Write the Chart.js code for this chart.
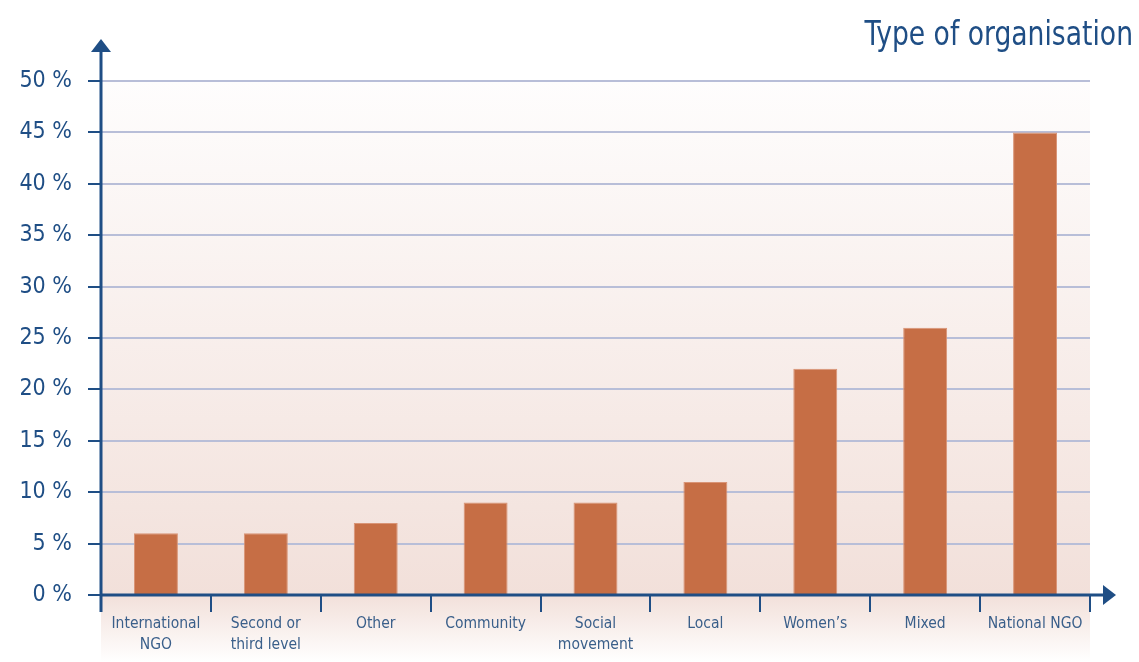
<!DOCTYPE html>
<html lang="en">
<head>
  <meta charset="UTF-8">
  <title>Type of organisation</title>
  <style>
    html, body { margin: 0; padding: 0; background: #fff; }
    .chart-wrapper { position: relative; width: 1139px; height: 662px; }
  </style>
</head>
<body>
  <div class="chart-wrapper">
    <canvas id="orgChart" width="1139" height="662"></canvas>
  </div>

  <script src="https://cdn.jsdelivr.net/npm/chart.js"></script>
  <script>
    // data
    const categories = [
      ['International', 'NGO'], ['Second or', 'third level'], 'Other', 'Community',
      ['Social', 'movement'], 'Local', 'Women\u2019s', 'Mixed', 'National NGO'
    ];
    const shares = [6, 6, 7, 9, 9, 11, 22, 26, 45];
    const yTicks = [0, 5, 10, 15, 20, 25, 30, 35, 40, 45, 50];

    const navy = '#1f4e85';
    const font = '"DejaVu Sans Condensed", "Liberation Sans Narrow", sans-serif';

    // background, axes with arrows and the title
    const decor = {
      id: 'decor',
      beforeDraw(chart) {
        const { ctx, chartArea: a } = chart;
        ctx.save();
        let g = ctx.createLinearGradient(0, a.top, 0, a.bottom);
        g.addColorStop(0, '#fefdfd');
        g.addColorStop(1, '#f2e0da');
        ctx.fillStyle = g;
        ctx.fillRect(a.left, a.top, a.right - a.left, a.bottom - a.top);
        g = ctx.createLinearGradient(0, a.bottom, 0, chart.height);
        g.addColorStop(0, '#f2e0da');
        g.addColorStop(1, '#ffffff');
        ctx.fillStyle = g;
        ctx.fillRect(a.left, a.bottom, a.right - a.left, chart.height - a.bottom);
        ctx.restore();
      },
      afterDraw(chart) {
        const { ctx, chartArea: a } = chart;
        ctx.save();
        ctx.strokeStyle = navy;
        ctx.fillStyle = navy;
        ctx.lineWidth = 3;
        // y axis
        ctx.beginPath();
        ctx.moveTo(a.left, a.bottom + 17);
        ctx.lineTo(a.left, a.top - 30);
        ctx.stroke();
        ctx.beginPath();
        ctx.moveTo(a.left - 10, a.top - 29);
        ctx.lineTo(a.left, a.top - 42);
        ctx.lineTo(a.left + 10, a.top - 29);
        ctx.closePath();
        ctx.fill();
        // x axis
        ctx.beginPath();
        ctx.moveTo(a.left, a.bottom);
        ctx.lineTo(a.right + 15, a.bottom);
        ctx.stroke();
        ctx.beginPath();
        ctx.moveTo(a.right + 13, a.bottom - 10);
        ctx.lineTo(a.right + 26, a.bottom);
        ctx.lineTo(a.right + 13, a.bottom + 10);
        ctx.closePath();
        ctx.fill();
        // title, squeezed a little to look like the condensed original
        ctx.translate(1133, 45);
        ctx.scale(0.87, 1);
        ctx.font = '34px ' + font;
        ctx.textAlign = 'right';
        ctx.textBaseline = 'alphabetic';
        ctx.fillText('Type of organisation', 0, 0);
        ctx.restore();
      }
    };

    const config = {
      type: 'bar',
      data: {
        labels: categories,
        datasets: [{
          data: shares,
          backgroundColor: '#c66e45',
          borderColor: '#d99476',
          borderWidth: 1,
          categoryPercentage: 1,
          barPercentage: 0.4
        }]
      },
      options: {
        responsive: false,
        animation: false,
        layout: { padding: { left: 0, right: 49, top: 81, bottom: 0 } },
        plugins: {
          legend: { display: false },
          tooltip: { enabled: false }
        },
        scales: {
          x: {
            offset: true,
            grid: {
              offset: true,
              drawOnChartArea: false,
              drawTicks: true,
              tickLength: 17,
              tickColor: navy,
              lineWidth: 2
            },
            border: { display: false },
            ticks: {
              color: '#3a5f8a',
              padding: 2,
              maxRotation: 0,
              autoSkip: false,
              font: { family: font, size: 15.5, lineHeight: 1.35 }
            },
            afterFit: s => { s.height = 67; }
          },
          y: {
            min: 0,
            max: 50,
            afterBuildTicks: s => { s.ticks = yTicks.map(v => ({ value: v })); },
            grid: {
              color: '#b8bed8',
              lineWidth: 2,
              tickLength: 13,
              tickColor: navy
            },
            border: { display: false },
            ticks: {
              color: navy,
              padding: 16,
              font: { family: font, size: 23 },
              callback: v => v + ' %'
            },
            afterFit: s => { s.width = 101; }
          }
        }
      },
      plugins: [decor]
    };

    window.addEventListener('load', () => {
      new Chart(document.getElementById('orgChart').getContext('2d'), config);
    });
  </script>
</body>
</html>
